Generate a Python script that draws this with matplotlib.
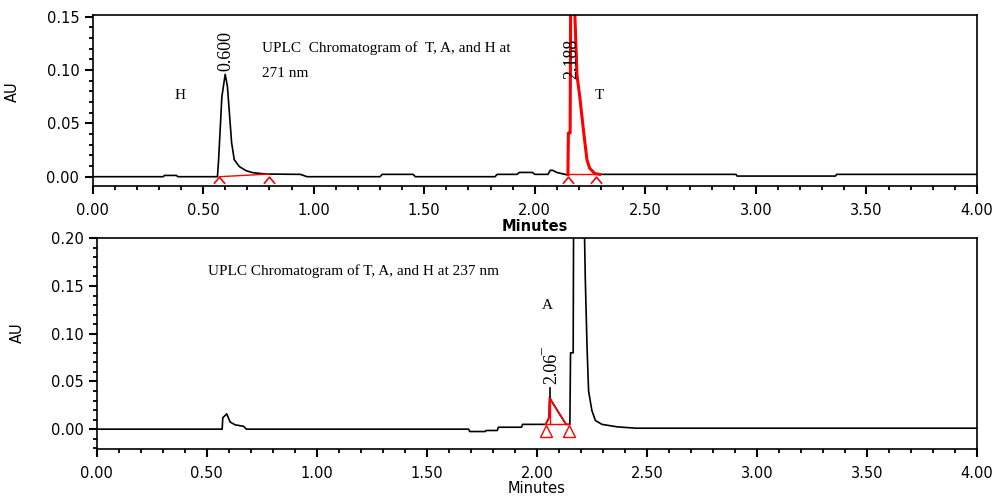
import numpy as np
import matplotlib.pyplot as plt
from matplotlib.ticker import MultipleLocator, FormatStrFormatter

# 271 nm trace (minutes, AU)
t271 = np.array([0.00, 0.32, 0.325, 0.38, 0.385, 0.565, 0.57, 0.585, 0.60, 0.61, 0.619,
                 0.629, 0.641, 0.664, 0.694, 0.724, 0.784, 0.94, 0.97, 1.30, 1.31, 1.45,
                 1.46, 1.82, 1.83, 1.92, 1.93, 1.99, 2.00, 2.06, 2.07, 2.08, 2.10, 2.14,
                 2.150, 2.152, 2.160, 2.163, 2.172, 2.180, 2.191, 2.203, 2.213, 2.225,
                 2.236, 2.248, 2.271, 2.293, 2.91, 2.915, 3.36, 3.365, 4.00])
au271 = np.array([0.0, 0.0, 0.0012, 0.0012, 0.0, 0.0, 0.015, 0.075, 0.096, 0.085, 0.060,
                  0.032, 0.016, 0.0095, 0.0057, 0.0038, 0.0025, 0.0022, 0.0, 0.0, 0.0022,
                  0.0022, 0.0, 0.0, 0.0022, 0.0022, 0.004, 0.004, 0.0022, 0.0022, 0.006,
                  0.006, 0.004, 0.002, 0.002, 0.041, 0.041, 0.20, 0.24, 0.16, 0.095, 0.076,
                  0.057, 0.035, 0.016, 0.008, 0.003, 0.0022, 0.0022, 0.0006, 0.0006,
                  0.0022, 0.0022])
# integrated peaks at 271 nm: (start, end, start AU, end AU)
peaks271_start = [0.574, 2.150]
peaks271_end = [0.800, 2.278]
peaks271_y0 = [0.0, 0.0022]
peaks271_y1 = [0.0025, 0.0022]
red271 = (2.150, 2.293)

# 237 nm trace
t237 = np.array([0.00, 0.57, 0.573, 0.591, 0.606, 0.629, 0.667, 0.68, 1.69, 1.695, 1.765,
                 1.77, 1.82, 1.825, 1.93, 1.935, 2.04, 2.055, 2.058, 2.065, 2.10, 2.133,
                 2.150, 2.153, 2.165, 2.168, 2.19, 2.209, 2.22, 2.228, 2.235, 2.25, 2.266,
                 2.296, 2.365, 2.45, 4.00])
au237 = np.array([0.0, 0.0, 0.012, 0.016, 0.0075, 0.0045, 0.003, 0.0, 0.0, -0.0025, -0.0025,
                  -0.0014, -0.0014, 0.002, 0.002, 0.005, 0.005, 0.012, 0.033, 0.030, 0.017,
                  0.005, 0.005, 0.080, 0.080, 0.30, 0.40, 0.30, 0.158, 0.086, 0.040, 0.0195,
                  0.009, 0.005, 0.0024, 0.001, 0.001])
peaks237_start = [2.041]
peaks237_end = [2.145]
peaks237_y0 = [0.005]
peaks237_y1 = [0.005]
red237 = (2.040, 2.133)

xticks = [0.00, 0.50, 1.00, 1.50, 2.00, 2.50, 3.00, 3.50, 4.00]

fig = plt.figure(figsize=(9.99, 4.97), dpi=100)
ax1 = fig.add_axes([0.0926, 0.6258, 0.8854, 0.3440])
ax2 = fig.add_axes([0.0968, 0.0966, 0.8812, 0.4245])

serif = 'Liberation Serif'
caret = [(-1, -0.6), (0, 0.6), (1, -0.6)]

for ax in (ax1, ax2):
    ax.set_xlim(0, 4)
    ax.set_xticks(xticks)
    ax.xaxis.set_minor_locator(MultipleLocator(0.1))
    ax.yaxis.set_major_locator(MultipleLocator(0.05))
    ax.yaxis.set_minor_locator(MultipleLocator(0.01))
    ax.xaxis.set_major_formatter(FormatStrFormatter('%.2f'))
    ax.yaxis.set_major_formatter(FormatStrFormatter('%.2f'))
    ax.tick_params(which='major', direction='out', length=6, width=1.5, labelsize=10.5)
    ax.tick_params(which='minor', direction='out', length=3, width=1.3)
    ax.tick_params(axis='x', pad=6)
    for s in ax.spines.values():
        s.set_linewidth(1.2)
    ax.set_ylabel('AU', fontsize=10.5)
    ax.yaxis.set_label_coords(-0.082, 0.55)

# top panel
ax1.set_ylim(-0.0087, 0.1517)
ax1.plot(t271, au271, color='black', lw=1.2)
m = (t271 >= red271[0]) & (t271 <= red271[1])
ax1.plot(t271[m], au271[m], color='red', lw=2.2)
for s, e, y0, y1 in zip(peaks271_start, peaks271_end, peaks271_y0, peaks271_y1):
    ax1.plot([s, e], [y0, y1], color='red', lw=1.0)
    ax1.plot([s, e], [-0.0035, -0.0035], ls='none', marker=caret, markersize=8,
             markeredgecolor='red', markerfacecolor='none', markeredgewidth=1.2, clip_on=False)
ax1.set_xlabel('Minutes', fontsize=10.5, fontweight='bold', labelpad=1)
ax1.text(0.603, 0.099, '0.600', rotation=90, ha='center', va='bottom', fontsize=13, family=serif)
ax1.text(2.168, 0.092, '2.188', rotation=90, ha='center', va='bottom', fontsize=13, family=serif)
ax1.text(0.395, 0.076, 'H', ha='center', va='center', fontsize=11, family=serif)
ax1.text(2.293, 0.076, 'T', ha='center', va='center', fontsize=11, family=serif)
ax1.text(0.767, 0.121, 'UPLC  Chromatogram of  T, A, and H at', ha='left', va='center',
         fontsize=11, family=serif)
ax1.text(0.767, 0.097, '271 nm', ha='left', va='center', fontsize=11, family=serif)

# bottom panel
ax2.set_ylim(-0.0208, 0.2003)
ax2.plot(t237, au237, color='black', lw=1.2)
m = (t237 >= red237[0]) & (t237 <= red237[1])
ax2.plot(t237[m], au237[m], color='red', lw=1.2)
ax2.plot([t237[m][2], t237[m][2]], [peaks237_y0[0], au237[m][2]], color='red', lw=1.0)
for s, e, y0, y1 in zip(peaks237_start, peaks237_end, peaks237_y0, peaks237_y1):
    ax2.plot([s, e], [y0, y1], color='red', lw=1.0)
    ax2.plot([s, e], [-0.002, -0.002], ls='none', marker='^', markersize=9,
             markeredgecolor='red', markerfacecolor='none', markeredgewidth=1.0)
ax2.plot([2.06, 2.06], [0.0334, 0.0435], color='black', lw=1.2)
ax2.text(2.068, 0.047, '2.06\u203e', rotation=90, ha='center', va='bottom', fontsize=13, family=serif)
ax2.text(2.047, 0.130, 'A', ha='center', va='center', fontsize=11, family=serif)
ax2.text(0.506, 0.166, 'UPLC Chromatogram of T, A, and H at 237 nm', ha='left', va='center',
         fontsize=11, family=serif)
ax2.set_xlabel('Minutes', fontsize=10.5, labelpad=0)

fig.savefig('out.png', dpi=100)
